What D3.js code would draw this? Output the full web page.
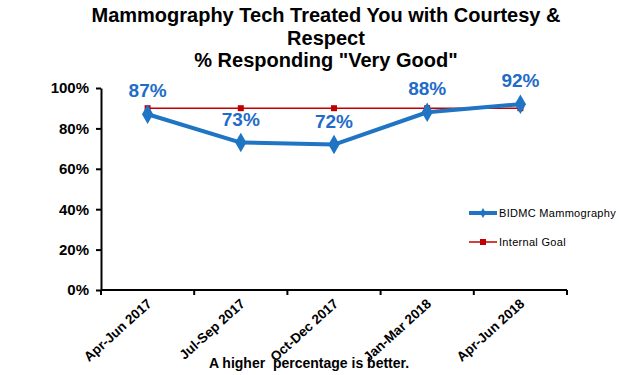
<!DOCTYPE html>
<html>
<head>
<meta charset="utf-8">
<script src="https://cdn.jsdelivr.net/npm/d3@7/dist/d3.min.js"></script>
<style>
  body { margin: 0; background: #fff; }
  text { font-family: Arial, "Liberation Sans", sans-serif; }
</style>
</head>
<body>
<svg id="chart"></svg>
<script>
var quarters = ["Apr-Jun 2017", "Jul-Sep 2017", "Oct-Dec 2017", "Jan-Mar 2018", "Apr-Jun 2018"];
var bidmc = [87, 73, 72, 88, 92];
var goal = [90, 90, 90, 90, 90];
var yTicks = [0, 20, 40, 60, 80, 100];

var svgWidth = 620, svgHeight = 375;
var margin = { top: 88, right: 53, bottom: 85, left: 101 };
var width = svgWidth - margin.left - margin.right;
var height = svgHeight - margin.top - margin.bottom;

var svg = d3.select("#chart")
    .attr("width", svgWidth)
    .attr("height", svgHeight);

var g = svg.append("g")
    .attr("transform", "translate(" + margin.left + "," + margin.top + ")");

var x = d3.scaleBand()
    .domain(quarters)
    .range([0, width]);

var y = d3.scaleLinear()
    .domain([0, 100])
    .range([height, 0]);

var cx = function(i) { return x(quarters[i]) + x.bandwidth() / 2; };

// title
var titleLines = ["Mammography Tech Treated You with Courtesy &", "Respect", "% Responding \"Very Good\""];
svg.append("text")
    .attr("x", 326)
    .attr("y", 22)
    .attr("text-anchor", "middle")
    .style("font-size", "20px")
    .style("font-weight", "bold")
    .selectAll("tspan")
    .data(titleLines)
    .join("tspan")
    .attr("x", 326)
    .attr("dy", function(d, i) { return i == 0 ? 0 : 22.5; })
    .text(function(d) { return d; });

// y axis
var yAxis = g.append("g")
    .call(d3.axisLeft(y).tickValues(yTicks).tickSize(5).tickSizeOuter(0).tickFormat(function(d) { return d + "%"; }));
yAxis.select(".domain").attr("stroke", "#000").attr("stroke-width", 2);
yAxis.selectAll(".tick line").attr("stroke-width", 2);
yAxis.selectAll(".tick text")
    .attr("x", -12)
    .style("font-size", "15px")
    .style("font-weight", "bold")
    .attr("fill", "#000");

// x axis (ticks at band edges)
var xAxis = g.append("g")
    .attr("transform", "translate(0," + height + ")");
xAxis.append("line")
    .attr("x1", 0).attr("x2", width)
    .attr("stroke", "#000").attr("stroke-width", 2);
xAxis.selectAll(".edge")
    .data(quarters.concat([null]))
    .join("line")
    .attr("class", "edge")
    .attr("x1", function(d, i) { return i < quarters.length ? x(d) : width; })
    .attr("x2", function(d, i) { return i < quarters.length ? x(d) : width; })
    .attr("y1", 0).attr("y2", 5)
    .attr("stroke", "#000").attr("stroke-width", 2);
xAxis.selectAll(".lbl")
    .data(quarters)
    .join("text")
    .attr("class", "lbl")
    .attr("text-anchor", "end")
    .attr("transform", function(d, i) { return "translate(" + (cx(i) + 5) + ",15) rotate(-42)"; })
    .style("font-size", "13.5px")
    .style("font-weight", "bold")
    .text(function(d) { return d; });

// goal line
var line = d3.line()
    .x(function(d, i) { return cx(i); })
    .y(function(d) { return y(d); });

g.append("path")
    .datum(goal)
    .attr("fill", "none")
    .attr("stroke", "#c00000")
    .attr("stroke-width", 1.5)
    .attr("d", line);

g.selectAll(".goalpt")
    .data(goal)
    .join("rect")
    .attr("class", "goalpt")
    .attr("x", function(d, i) { return cx(i) - 3; })
    .attr("y", function(d) { return y(d) - 3; })
    .attr("width", 6).attr("height", 6)
    .attr("fill", "#c00000");

// BIDMC line
var blue = "#1f74c4";
g.append("path")
    .datum(bidmc)
    .attr("fill", "none")
    .attr("stroke", blue)
    .attr("stroke-width", 4)
    .attr("stroke-linejoin", "round")
    .attr("d", line);

var diamond = d3.symbol().type(d3.symbolDiamond).size(110);
g.selectAll(".pt")
    .data(bidmc)
    .join("path")
    .attr("class", "pt")
    .attr("d", diamond)
    .attr("transform", function(d, i) { return "translate(" + cx(i) + "," + y(d) + ")"; })
    .attr("fill", blue);

g.selectAll(".val")
    .data(bidmc)
    .join("text")
    .attr("class", "val")
    .attr("x", function(d, i) { return cx(i); })
    .attr("y", function(d) { return y(d) - 17; })
    .attr("text-anchor", "middle")
    .style("font-size", "19px")
    .style("font-weight", "bold")
    .attr("fill", "#1f6cc8")
    .text(function(d) { return d + "%"; });

// legend
var legend = [
    { name: "BIDMC Mammography", color: blue, w: 4, y: 213 },
    { name: "Internal Goal", color: "#c00000", w: 1.5, y: 242 }
];
legend.forEach(function(l, i) {
    svg.append("line")
        .attr("x1", 469).attr("x2", 497)
        .attr("y1", l.y).attr("y2", l.y)
        .attr("stroke", l.color).attr("stroke-width", l.w);
    if (i == 0) {
        svg.append("path")
            .attr("d", d3.symbol().type(d3.symbolDiamond).size(30))
            .attr("transform", "translate(483," + l.y + ")")
            .attr("fill", l.color);
    } else {
        svg.append("rect")
            .attr("x", 480).attr("y", l.y - 3)
            .attr("width", 6).attr("height", 6)
            .attr("fill", l.color);
    }
    svg.append("text")
        .attr("x", 499)
        .attr("y", l.y + 4)
        .style("font-size", "11px")
        .style("letter-spacing", "0.3px")
        .text(l.name);
});

// footer
svg.append("text")
    .attr("x", 309)
    .attr("y", 368)
    .attr("text-anchor", "middle")
    .style("font-size", "14px")
    .style("font-weight", "bold")
    .style("white-space", "pre")
    .text("A higher  percentage is better.");
</script>
</body>
</html>
